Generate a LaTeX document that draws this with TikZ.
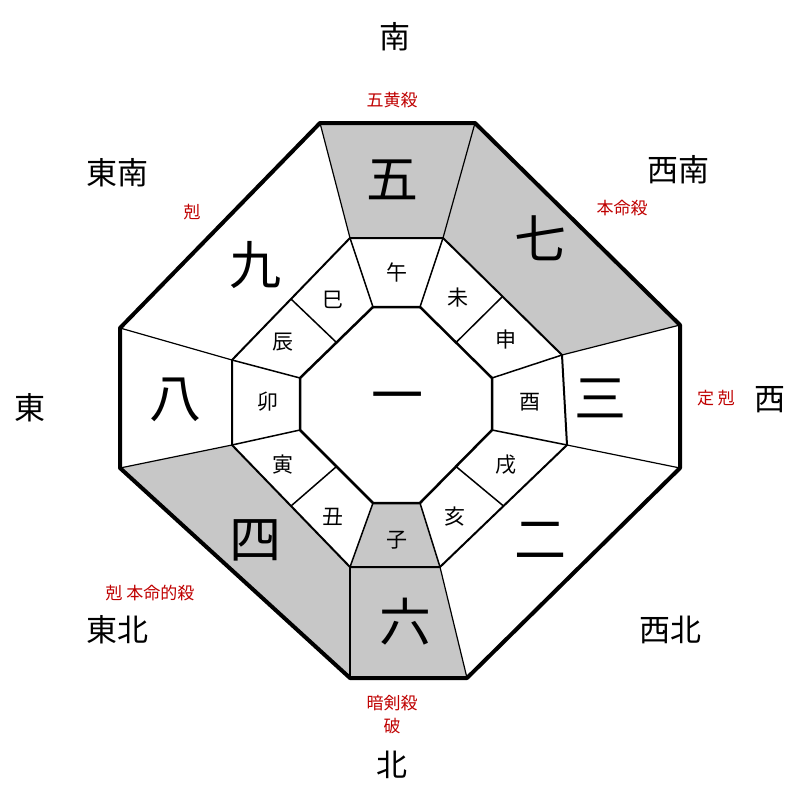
\documentclass[tikz,border=0pt]{standalone}
\usepackage{fontspec}
\setmainfont{Noto Sans CJK JP}
\usetikzlibrary{calc}
\tikzset{
  dir/.style={font=\fontsize{31}{33}\selectfont},
  star/.style={font=\fontsize{52}{54}\selectfont},
  zod/.style={font=\fontsize{21}{23}\selectfont},
  note/.style={font=\fontsize{17}{19}\selectfont, text=red!75!black},
  shade/.style={fill=black!22}
}
\begin{document}
\begin{tikzpicture}[x=1pt,y=-1pt]
  \useasboundingbox (0,0) rectangle (800,800);

  % outer octagon
  \coordinate (o1) at (320,123); \coordinate (o2) at (475,123);
  \coordinate (o3) at (680,325); \coordinate (o4) at (680,468);
  \coordinate (o5) at (467,678); \coordinate (o6) at (350,678);
  \coordinate (o7) at (120,468); \coordinate (o8) at (120,328);
  % middle octagon
  \coordinate (m1) at (350,238); \coordinate (m2) at (443,238);
  \coordinate (m3) at (562,355); \coordinate (m4) at (567,445);
  \coordinate (m5) at (440,567); \coordinate (m6) at (350,567);
  \coordinate (m7) at (232,445); \coordinate (m8) at (232,360);
  % inner octagon
  \coordinate (i1) at (373,307); \coordinate (i2) at (420,307);
  \coordinate (i3) at (492,378); \coordinate (i4) at (492,430);
  \coordinate (i5) at (420,503); \coordinate (i6) at (373,503);
  \coordinate (i7) at (300,430); \coordinate (i8) at (300,378);

  % shaded sectors
  \fill[shade] (o1) -- (o2) -- (m2) -- (m1) -- cycle;
  \fill[shade] (o2) -- (o3) -- (m3) -- (m2) -- cycle;
  \fill[shade] (o5) -- (o6) -- (m6) -- (m5) -- cycle;
  \fill[shade] (o6) -- (o7) -- (m7) -- (m6) -- cycle;
  \fill[shade] (i5) -- (i6) -- (m6) -- (m5) -- cycle;

  % sector dividers
  \foreach \k in {1,...,8}
    \draw[line width=1.2pt] (o\k) -- (m\k);
  \draw[line width=2pt] (m1) -- (m2) -- (m3) -- (m4) -- (m5) -- (m6) -- (m7) -- (m8) -- cycle;
  \foreach \k in {1,...,8}
    \draw[line width=1.5pt] (i\k) -- (m\k);
  \draw[line width=1.5pt] ($(i2)!0.5!(i3)$) -- ($(m2)!0.5!(m3)$);
  \draw[line width=1.5pt] ($(i4)!0.5!(i5)$) -- ($(m4)!0.5!(m5)$);
  \draw[line width=1.5pt] ($(i6)!0.5!(i7)$) -- ($(m6)!0.5!(m7)$);
  \draw[line width=1.5pt] ($(i8)!0.5!(i1)$) -- ($(m8)!0.5!(m1)$);
  \draw[line width=2.5pt] (i1) -- (i2) -- (i3) -- (i4) -- (i5) -- (i6) -- (i7) -- (i8) -- cycle;
  \draw[line width=4pt, line join=round] (o1) -- (o2) -- (o3) -- (o4) -- (o5) -- (o6) -- (o7) -- (o8) -- cycle;

  % stars
  \node[star] (n5) at (392,180) {五};
  \node[star] (n7) at (540,238) {七};
  \node[star] (n9) at (255,265) {九};
  \node[star] (n8) at (175,400) {八};
  \node[star] (n1) at (397,403) {一};
  \node[star] (n3) at (600,398) {三};
  \node[star] (n4) at (255,540) {四};
  \node[star] (n2) at (540,540) {二};
  \node[star] (n6) at (405,622) {六};

  % zodiac
  \node[zod] (uma)  at (397,272) {午};
  \node[zod] (hit)  at (458,298) {未};
  \node[zod] (saru) at (506,340) {申};
  \node[zod] (tori) at (530,402) {酉};
  \node[zod] (inu)  at (506,465) {戌};
  \node[zod] (ino)  at (455,517) {亥};
  \node[zod] (ne)   at (397,540) {子};
  \node[zod] (ushi) at (333,517) {丑};
  \node[zod] (tora) at (283,465) {寅};
  \node[zod] (u)    at (268,402) {卯};
  \node[zod] (tatu) at (283,342) {辰};
  \node[zod] (mi)   at (333,300) {巳};

  % directions
  \node[dir] (south) at (395,37)  {南};
  \node[dir] (se)    at (117,173) {東南};
  \node[dir] (sw)    at (678,170) {西南};
  \node[dir] (east)  at (30,408)  {東};
  \node[dir] (west)  at (770,400) {西};
  \node[dir] (ne1)   at (117,630) {東北};
  \node[dir] (nw)    at (670,630) {西北};
  \node[dir] (north) at (392,765) {北};

  % notes
  \node[note] (gosa) at (392,100) {五黄殺};
  \node[note] (hons) at (622,208) {本命殺};
  \node[note] (koku) at (192,212) {剋};
  \node[note] (tei)  at (716,398) {定 剋};
  \node[note] (hont) at (150,593) {剋 本命的殺};
  \node[note] (anke) at (392,703) {暗剣殺};
  \node[note] (ha)   at (392,726) {破};
\end{tikzpicture}
\end{document}
